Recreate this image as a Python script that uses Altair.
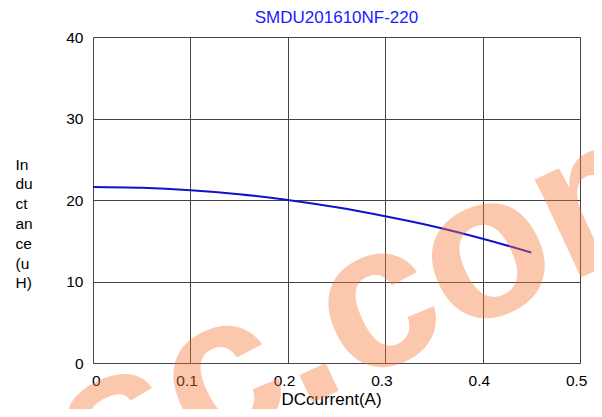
import altair as alt
import pandas as pd

# ---- data ----
current_a = [0.0, 0.05, 0.10, 0.15, 0.20, 0.25, 0.30, 0.35, 0.40, 0.45]
inductance_uh = [21.6, 21.5, 21.2, 20.7, 20.0, 19.1, 18.0, 16.75, 15.25, 13.55]
x_ticks = [0, 0.1, 0.2, 0.3, 0.4, 0.5]
y_ticks = [0, 10, 20, 30, 40]
chart_title = ["SMDU201610NF-220"]
x_title = "DCcurrent(A)"
y_title_lines = ["In", "du", "ct", "an", "ce", "(u", "H)"]
watermark = ["sc.com"]

FONT = "Liberation Sans"
GRID = "#444444"

df = pd.DataFrame({"current": current_a, "L": inductance_uh})
wm_df = pd.DataFrame({"wm": watermark})
title_df = pd.DataFrame({"t": chart_title})

line = alt.Chart(df).mark_line(color="#1212cc", strokeWidth=2, interpolate="monotone").encode(
    x=alt.X(
        "current:Q",
        scale=alt.Scale(domain=[0, 0.5], nice=False, zero=False),
        axis=alt.Axis(
            values=x_ticks, format="~g", title=x_title,
            labelAlign="right", labelOffset=7, labelBaseline="alphabetic", labelPadding=22.5,
            labelFontSize=15.5, labelFont=FONT, labelColor="#000000",
            titleFont=FONT, titleFontSize=17, titleFontWeight="normal", titleColor="#000000",
            titleBaseline="alphabetic", titleY=41.5, titleX=238, titleAlign="center",
            grid=True, gridColor=GRID, gridOpacity=1, gridWidth=1,
            ticks=False, domain=False,
        ),
    ),
    y=alt.Y(
        "L:Q",
        scale=alt.Scale(domain=[0, 40], nice=False),
        axis=alt.Axis(
            values=y_ticks, title=y_title_lines,
            labelFontSize=15.5, labelFont=FONT, labelColor="#000000", labelPadding=10,
            labelBaseline="middle",
            titleFont=FONT, titleFontSize=15.5, titleFontWeight="normal", titleColor="#000000",
            titleAngle=0, titleAlign="left", titleBaseline="alphabetic",
            titleX=-78, titleY=132, titleLineHeight=19.8,
            grid=True, gridColor=GRID, gridOpacity=1, gridWidth=1,
            ticks=False, domain=False,
        ),
    ),
)

title_mark = alt.Chart(title_df).mark_text(
    font=FONT, fontSize=17, color="#1a1aff", align="center", baseline="alphabetic", clip=False,
).encode(
    text="t:N",
    x=alt.value(243.5),
    y=alt.value(-14),
)

wm = alt.Chart(wm_df).mark_text(
    font=FONT, fontSize=205, fontWeight="bold", color="#f77635", opacity=0.4,
    angle=335, align="left", baseline="alphabetic", clip=False,
).encode(
    text="wm:N",
    x=alt.value(0),
    y=alt.value(468),
)

chart = alt.layer(line, title_mark, wm).properties(
    width=487,
    height=326,
    autosize=alt.AutoSizeParams(type="none"),
    padding={"left": 85, "top": 29, "right": 14, "bottom": 46},
).configure_view(
    stroke=GRID, strokeWidth=1
).configure(background="white")

chart.save("out.html", embed_options={"renderer": "svg", "actions": False})
